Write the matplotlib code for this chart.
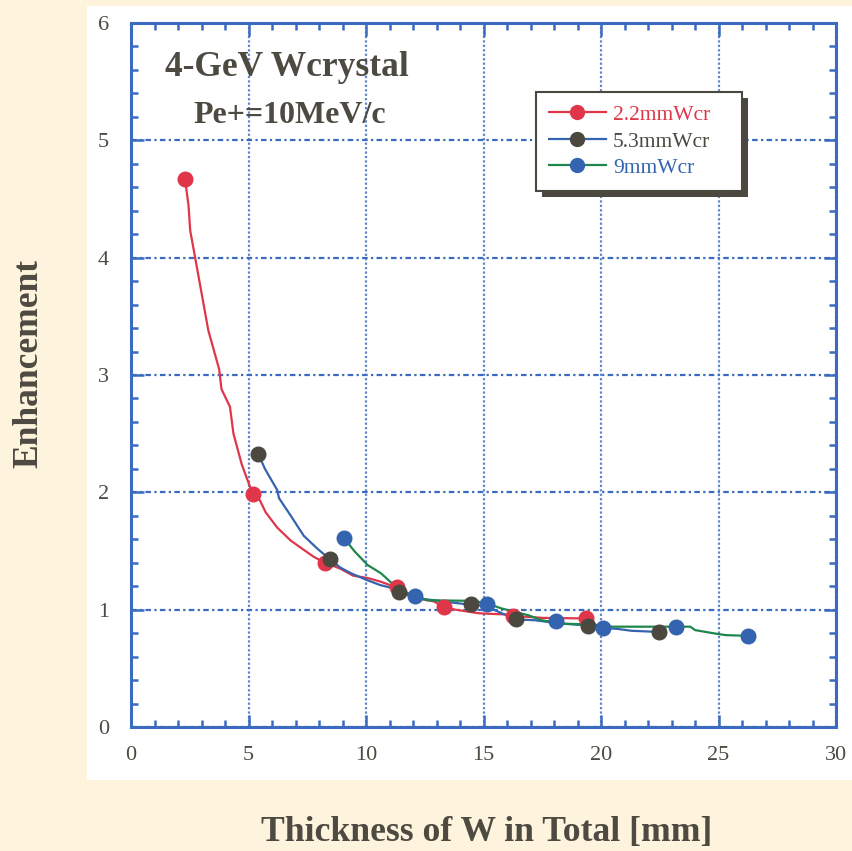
import matplotlib
matplotlib.use("Agg")
import matplotlib.pyplot as plt
from matplotlib.lines import Line2D
from matplotlib.patches import Rectangle
from matplotlib.ticker import MultipleLocator

# -------------------- data --------------------
# 2.2mm crystal (red)
red_line_x = [2.30, 2.45, 2.52, 2.73, 3.29, 3.75, 3.85, 4.21, 4.36, 4.71, 5.15, 5.20,
              5.49, 5.73, 6.22, 6.79, 7.35, 7.78, 8.25, 8.90, 9.45, 10.07, 10.60,
              11.30, 12.20, 12.90, 13.30, 13.80, 14.77, 15.20, 15.90, 16.27, 16.80,
              17.50, 19.35]
red_line_y = [4.67, 4.44, 4.23, 4.00, 3.38, 3.05, 2.88, 2.73, 2.50, 2.24, 2.00, 1.99,
              1.93, 1.83, 1.70, 1.59, 1.51, 1.45, 1.40, 1.35, 1.29, 1.27, 1.24,
              1.19, 1.095, 1.07, 1.02, 1.00, 0.97, 0.965, 0.96, 0.945, 0.94,
              0.93, 0.925]
red_pts_x = [2.30, 5.20, 8.25, 11.30, 13.30, 16.27, 19.35]
red_pts_y = [4.67, 1.99, 1.40, 1.19, 1.02, 0.945, 0.925]

# 5.3mm crystal (blue line, dark markers)
mid_line_x = [5.41, 5.70, 6.22, 6.30, 6.80, 7.35, 7.93, 8.46, 8.90, 9.36, 10.07, 10.60,
              11.20, 11.40, 12.10, 12.90, 14.10, 14.45, 15.10, 15.77, 16.40, 17.20,
              18.10, 19.43, 20.10, 20.70, 21.30, 22.46]
mid_line_y = [2.33, 2.20, 2.02, 1.95, 1.80, 1.63, 1.52, 1.43, 1.36, 1.31, 1.25, 1.21,
              1.18, 1.15, 1.10, 1.08, 1.05, 1.045, 1.03, 0.97, 0.917, 0.91,
              0.885, 0.865, 0.845, 0.836, 0.82, 0.81]
mid_pts_x = [5.41, 8.46, 11.40, 14.45, 16.40, 19.43, 22.46]
mid_pts_y = [2.33, 1.43, 1.15, 1.045, 0.917, 0.865, 0.81]

# 9mm crystal (green line, blue markers)
big_line_x = [9.07, 9.50, 10.07, 10.64, 11.40, 12.10, 12.60, 14.60, 15.20, 15.77,
              16.90, 17.48, 18.10, 18.40, 19.50, 20.50, 23.80, 24.00, 24.75, 25.30,
              26.24]
big_line_y = [1.61, 1.50, 1.38, 1.31, 1.17, 1.115, 1.08, 1.075, 1.05, 1.01,
              0.953, 0.91, 0.89, 0.88, 0.875, 0.855, 0.855, 0.826, 0.80, 0.783,
              0.777]
big_pts_x = [9.07, 12.10, 15.15, 18.10, 20.10, 23.18, 26.24]
big_pts_y = [1.61, 1.115, 1.045, 0.90, 0.845, 0.855, 0.777]

labels = ["2.2mmWcr", "5.3mmWcr", "9mmWcr"]

# -------------------- colours --------------------
RED = "#E0364A"
DARK = "#4B4840"
BLUE = "#3464B0"
GREEN = "#1E874B"
TEXT = "#4D4A42"
CREAM = "#FEF3DD"
GRID = "#3A6BC0"

plt.rcParams["font.family"] = ["Liberation Serif", "DejaVu Serif"]

fig = plt.figure(figsize=(8.52, 8.51), dpi=100, facecolor=CREAM)

# white panel behind the plot
fig.patches.append(Rectangle((87 / 852, 71 / 851), 1 - 87 / 852, 774 / 851,
                             transform=fig.transFigure, facecolor="white",
                             edgecolor="none", zorder=-10))

ax = fig.add_axes([131 / 852, 124 / 851, 705 / 852, 704 / 851])
ax.set_facecolor("white")
ax.set_xlim(0, 30)
ax.set_ylim(0, 6)

# grid
ax.xaxis.set_major_locator(MultipleLocator(5))
ax.xaxis.set_minor_locator(MultipleLocator(1))
ax.yaxis.set_major_locator(MultipleLocator(1))
ax.yaxis.set_minor_locator(MultipleLocator(0.2))
ax.grid(True, axis="x", which="major", color="#5A86CC", linestyle=(0, (1, 1)),
        linewidth=1.6)
ax.grid(True, axis="y", which="major", color=GRID, linestyle=(0, (2.5, 1.5, 1, 1.5)),
        linewidth=1.6)
ax.set_axisbelow(True)

for s in ax.spines.values():
    s.set_color(GRID)
    s.set_linewidth(2.2)

ax.tick_params(which="both", direction="in", top=True, right=True, color=GRID,
               labelcolor=TEXT, labelsize=16)
ax.tick_params(which="major", length=9, width=1.8)
ax.tick_params(which="minor", length=5, width=1.8)
ax.tick_params(axis="x", pad=14)
ax.tick_params(axis="y", pad=16)

# curves
ax.plot(red_line_x, red_line_y, color=RED, linewidth=1.6, zorder=3)
ax.plot(mid_line_x, mid_line_y, color=BLUE, linewidth=1.6, zorder=3)
ax.plot(big_line_x, big_line_y, color=GREEN, linewidth=1.6, zorder=3)

ax.plot(red_pts_x, red_pts_y, "o", color=RED, markersize=10.5, zorder=4)
ax.plot(mid_pts_x, mid_pts_y, "o", color=DARK, markersize=10.5, zorder=4)
ax.plot(big_pts_x, big_pts_y, "o", color=BLUE, markersize=10.5, zorder=4)

# titles inside the plot
ax.text(0.221, 0.9375, "4-GeV Wcrystal", transform=ax.transAxes, fontsize=25.5,
        fontweight="bold", color=TEXT, ha="center", va="center")
ax.text(0.225, 0.869, "Pe+=10MeV/c", transform=ax.transAxes, fontsize=23,
        fontweight="bold", color=TEXT, ha="center", va="center")

ax.set_xlabel("Thickness of W in Total [mm]", fontsize=25.7, fontweight="bold",
              color=TEXT)
ax.xaxis.set_label_coords(0.504, -0.127)
ax.set_ylabel("Enhancement", fontsize=25.5, fontweight="bold", color=TEXT)
ax.yaxis.set_label_coords(-0.121, 0.516)

# legend
handles = [
    Line2D([], [], color=RED, marker="o", markerfacecolor=RED, markeredgecolor=RED,
           markersize=10, linewidth=1.6),
    Line2D([], [], color=BLUE, marker="o", markerfacecolor=DARK, markeredgecolor=DARK,
           markersize=10, linewidth=1.6),
    Line2D([], [], color=GREEN, marker="o", markerfacecolor=BLUE, markeredgecolor=BLUE,
           markersize=10, linewidth=1.6),
]
leg = ax.legend(handles, labels, loc="upper left",
                bbox_to_anchor=(0.574, 0.768, 0.293, 0.134), mode="expand",
                borderaxespad=0, fontsize=15.5, frameon=True, fancybox=False,
                framealpha=1, facecolor="white",
                handlelength=2.65, handletextpad=0.35, labelspacing=0.3,
                borderpad=0.6)
leg.get_frame().set_edgecolor(DARK)
leg.get_frame().set_linewidth(1.5)
leg.set_zorder(6)
for txt, c in zip(leg.get_texts(), [RED, DARK, BLUE]):
    txt.set_color(c)

# shadow under legend box
fig.canvas.draw()
bb = leg.get_window_extent().transformed(ax.transAxes.inverted())
dx = 6 / 705
dy = 6 / 704
ax.add_patch(Rectangle((bb.x0 + dx, bb.y0 - dy), bb.width, bb.height,
                       transform=ax.transAxes, facecolor=DARK, edgecolor="none",
                       zorder=5.5, clip_on=False))

fig.savefig("out.png", dpi=100, facecolor=CREAM)
